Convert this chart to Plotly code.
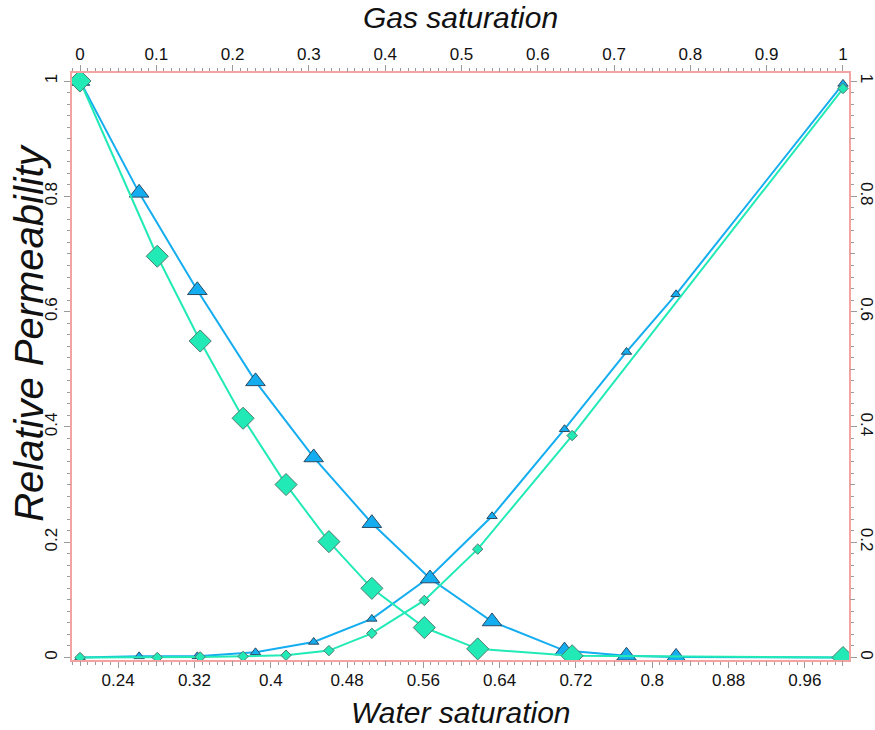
import plotly.graph_objects as go

# ---- data ----
sw_blue = [0.2, 0.262, 0.323, 0.384, 0.445, 0.506, 0.567, 0.632, 0.708, 0.773, 0.825, 1.0]
kr_blue_dec = [1.0, 0.806, 0.637, 0.479, 0.347, 0.233, 0.137, 0.0625, 0.012, 0.003, 0.001, 0.0]
kr_blue_inc = [0.0, 0.002, 0.002, 0.009, 0.027, 0.067, 0.14, 0.245, 0.396, 0.53, 0.63, 0.995]

sw_green = [0.2, 0.281, 0.326, 0.371, 0.416, 0.461, 0.506, 0.561, 0.617, 0.716, 1.0]
kr_green_dec = [1.0, 0.696, 0.549, 0.415, 0.300, 0.201, 0.120, 0.052, 0.015, 0.003, 0.0]
kr_green_inc = [0.0, 0.0, 0.001, 0.002, 0.004, 0.012, 0.042, 0.099, 0.188, 0.385, 0.987]

sw_ticks = [0.24, 0.32, 0.4, 0.48, 0.56, 0.64, 0.72, 0.8, 0.88, 0.96]
sw_ticktext = ["0.24", "0.32", "0.4", "0.48", "0.56", "0.64", "0.72", "0.8", "0.88", "0.96"]
sw_medium = [0.2, 0.28, 0.36, 0.44, 0.52, 0.6, 0.68, 0.76, 0.84, 0.92, 1.0]
sg_ticks = [0, 0.1, 0.2, 0.3, 0.4, 0.5, 0.6, 0.7, 0.8, 0.9, 1.0]
sg_ticktext = ["0", "0.1", "0.2", "0.3", "0.4", "0.5", "0.6", "0.7", "0.8", "0.9", "1"]
sg_medium = [0.05, 0.15, 0.25, 0.35, 0.45, 0.55, 0.65, 0.75, 0.85, 0.95]
kr_ticks = [0, 0.2, 0.4, 0.6, 0.8, 1.0]
kr_ticktext = ["0", "0.2", "0.4", "0.6", "0.8", "1"]
kr_medium = [0.1, 0.3, 0.5, 0.7, 0.9]

# ---- style ----
BLUE = "#14adf0"
GREEN = "#22eab6"
AXIS = "#f4a3a3"
TICK = "#9a9a9a"
FONT = "Liberation Sans, Arial, sans-serif"

SW_RANGE = [0.1916, 1.0063]
SG_RANGE = [-0.0105, 1.0079]
KR_RANGE = [-0.0043, 1.0139]

fig = go.Figure()

fig.add_trace(go.Scatter(
    x=sw_blue, y=kr_blue_inc, mode="lines+markers",
    line=dict(color=BLUE, width=2),
    marker=dict(symbol="triangle-up", size=9, color=BLUE, line=dict(color="#2b4a63", width=1)),
    showlegend=False))
fig.add_trace(go.Scatter(
    x=sw_blue, y=kr_blue_dec, mode="lines+markers",
    line=dict(color=BLUE, width=2),
    marker=dict(symbol="triangle-up", size=17, color=BLUE, line=dict(color="#2b4a63", width=1)),
    showlegend=False))
fig.add_trace(go.Scatter(
    x=sw_green, y=kr_green_inc, mode="lines+markers",
    line=dict(color=GREEN, width=2),
    marker=dict(symbol="diamond", size=8, color=GREEN, line=dict(color="#4f7a6e", width=1)),
    showlegend=False))
fig.add_trace(go.Scatter(
    x=sw_green, y=kr_green_dec, mode="lines+markers",
    line=dict(color=GREEN, width=2),
    marker=dict(symbol="diamond", size=17, color=GREEN, line=dict(color="#4f7a6e", width=1)),
    showlegend=False))

tickfont = dict(family=FONT, size=17, color="#111111")

fig.update_layout(
    width=875, height=730,
    margin=dict(l=72, r=26, t=73, b=70, autoexpand=False),
    paper_bgcolor="white", plot_bgcolor="white",
    font=dict(family=FONT),
    xaxis=dict(
        range=SW_RANGE, showgrid=False, zeroline=False, automargin=False,
        showline=True, linecolor=AXIS, linewidth=1.5,
        tickmode="array", tickvals=sw_ticks, ticktext=sw_ticktext,
        ticks="outside", ticklen=6, tickcolor=TICK, tickwidth=1,
        tickfont=tickfont, ticklabelstandoff=-2,
        minor=dict(tick0=0, dtick=0.008, ticks="outside", ticklen=3, tickcolor=TICK, tickwidth=1),
    ),
    xaxis3=dict(
        overlaying="x", side="bottom", anchor="y", range=SW_RANGE, automargin=False,
        showgrid=False, zeroline=False, showline=False, showticklabels=False,
        tickmode="array", tickvals=sw_medium, ticks="outside", ticklen=4.5,
        tickcolor=TICK, tickwidth=1,
    ),
    xaxis2=dict(
        overlaying="x", side="top", anchor="y", range=SG_RANGE, automargin=False,
        showgrid=False, zeroline=False,
        showline=True, linecolor=AXIS, linewidth=1.5,
        tickmode="array", tickvals=sg_ticks, ticktext=sg_ticktext,
        ticks="outside", ticklen=6, tickcolor=TICK, tickwidth=1,
        tickfont=tickfont, ticklabelstandoff=-2,
        minor=dict(tick0=0, dtick=0.01, ticks="outside", ticklen=3, tickcolor=TICK, tickwidth=1),
    ),
    xaxis4=dict(
        overlaying="x", side="top", anchor="y", range=SG_RANGE, automargin=False,
        showgrid=False, zeroline=False, showline=False, showticklabels=False,
        tickmode="array", tickvals=sg_medium, ticks="outside", ticklen=4.5,
        tickcolor=TICK, tickwidth=1,
    ),
    yaxis=dict(
        range=KR_RANGE, showgrid=False, zeroline=False, automargin=False,
        showline=True, linecolor=AXIS, linewidth=1.5,
        tickmode="array", tickvals=kr_ticks, ticktext=kr_ticktext,
        ticks="outside", ticklen=6, tickcolor=TICK, tickwidth=1,
        tickfont=tickfont, tickangle=-90,
        minor=dict(tick0=0, dtick=0.02, ticks="outside", ticklen=3, tickcolor=TICK, tickwidth=1),
    ),
    yaxis3=dict(
        overlaying="y", side="left", anchor="x", range=KR_RANGE, automargin=False,
        showgrid=False, zeroline=False, showline=False, showticklabels=False,
        tickmode="array", tickvals=kr_medium, ticks="outside", ticklen=4.5,
        tickcolor=TICK, tickwidth=1,
    ),
    yaxis2=dict(
        overlaying="y", side="right", anchor="x", range=KR_RANGE, automargin=False,
        showgrid=False, zeroline=False,
        showline=True, linecolor=AXIS, linewidth=1.5,
        tickmode="array", tickvals=kr_ticks, ticktext=kr_ticktext,
        ticks="outside", ticklen=6, tickcolor=TICK, tickwidth=1,
        tickfont=tickfont, tickangle=90, ticklabelstandoff=-3,
        minor=dict(tick0=0, dtick=0.02, ticks="outside", ticklen=3, tickcolor=TICK, tickwidth=1),
    ),
    yaxis4=dict(
        overlaying="y", side="right", anchor="x", range=KR_RANGE, automargin=False,
        showgrid=False, zeroline=False, showline=False, showticklabels=False,
        tickmode="array", tickvals=kr_medium, ticks="outside", ticklen=4.5,
        tickcolor=TICK, tickwidth=1,
    ),
)

# invisible traces so the overlay axes are drawn
for xa, ya in [("x2", "y"), ("x3", "y"), ("x4", "y"), ("x", "y2"), ("x", "y3"), ("x", "y4")]:
    fig.add_trace(go.Scatter(x=[None], y=[None], xaxis=xa, yaxis=ya, showlegend=False, hoverinfo="skip"))

title_font = dict(family=FONT, size=30, color="#111111")
fig.add_annotation(text="<i>Gas saturation</i>", xref="paper", yref="paper",
                   x=0.5, y=1.0937, xanchor="center", yanchor="middle",
                   showarrow=False, font=title_font)
fig.add_annotation(text="<i>Water saturation</i>", xref="paper", yref="paper",
                   x=0.5, y=-0.0886, xanchor="center", yanchor="middle",
                   showarrow=False, font=title_font)
fig.add_annotation(text="<i>Relative Permeability</i>", xref="paper", yref="paper",
                   x=-0.0555, y=0.5588, xanchor="center", yanchor="middle",
                   textangle=-90, showarrow=False,
                   font=dict(family=FONT, size=40, color="#111111"))

fig.write_html("out.html")
